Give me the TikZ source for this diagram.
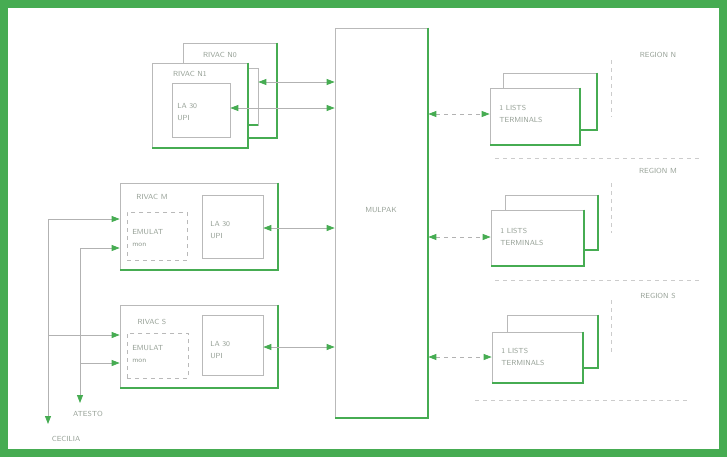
\documentclass[tikz,border=0pt]{standalone}
\usetikzlibrary{arrows.meta,fit}
\definecolor{grn}{RGB}{70,172,82}
\definecolor{txt}{RGB}{150,160,150}
\tikzset{
  frame/.style={draw=grn,line width=6pt},
  box/.style={draw=gray!55,line width=0.5pt,fill=white,inner sep=0pt},
  dbox/.style={draw=gray!55,line width=0.5pt,dashed,inner sep=0pt},
  shade/.style={draw=grn,line width=1.5pt},
  lbl/.style={text=txt,font=\sffamily\fontsize{5.5}{6.5}\selectfont,inner sep=0pt},
  llbl/.style={lbl,anchor=west,align=left},
  tip/.tip={Triangle[length=6pt,width=4.5pt,color=grn]},
  link/.style={draw=gray!60,line width=0.6pt,tip-tip},
  rlink/.style={link,dashed},
  inarr/.style={draw=gray!60,line width=0.6pt,-tip},
  sep/.style={draw=gray!40,line width=0.5pt,dashed},
}
\begin{document}
\begin{tikzpicture}[x=0.75pt,y=-0.75pt]
\useasboundingbox (0,0) rectangle (727,457);
\draw[frame] (4,4) rectangle (723,453);

% ---- RIVAC N stack
\node[box,fit={(183,43)(277,138)}] (nback) {};
\draw[shade] (nback.north east) -- (nback.south east) -- (nback.south west);
\node[box,fit={(160,68)(258,125)}] (nmid) {};
\draw[shade] (nmid.south east) -- ([xshift=-8pt]nmid.south east);
\node[box,fit={(152,63)(248,148)}] (nfront) {};
\draw[shade] (nfront.north east) -- (nfront.south east) -- (nfront.south west);
\node[box,fit={(172,83)(230,137)}] (nla) {};
\node[lbl] (nbl) at (220,55) {RIVAC N0};
\node[lbl] (nfl) at (190,74) {RIVAC N1};
\node[llbl] (nlat) at (177,112) {LA 30\\[2pt]UPI};

% ---- RIVAC M
\node[box,fit={(120,183)(278,270)}] (m) {};
\draw[shade] (m.north east) -- (m.south east) -- (m.south west);
\node[box,fit={(202,195)(263,258)}] (mla) {};
\node[dbox,fit={(127,212)(187,260)}] (mem) {};
\node[lbl] (ml) at (152,197) {RIVAC M};
\node[llbl] (mlat) at (210,230) {LA 30\\[2pt]UPI};
\node[llbl] (memt) at (132,238) {EMULAT\\[2pt]mon};

% ---- RIVAC S
\node[box,fit={(120,305)(278,388)}] (s) {};
\draw[shade] (s.north east) -- (s.south east) -- (s.south west);
\node[box,fit={(202,315)(263,375)}] (sla) {};
\node[dbox,fit={(127,333)(188,378)}] (sem) {};
\node[lbl] (sl) at (152,322) {RIVAC S};
\node[llbl] (slat) at (210,350) {LA 30\\[2pt]UPI};
\node[llbl] (semt) at (132,354) {EMULAT\\[2pt]mon};

% ---- multiplexer
\node[box,fit={(335,28)(428,418)}] (mux) {};
\draw[shade] (mux.north east) -- (mux.south east) -- (mux.south west);
\node[lbl] (muxl) at (381,210) {MULPAK};

% ---- links left of mux
\draw[link] (mux.west |- 0,82) -- (nmid.east |- 0,82);
\draw[link] (mux.west |- 0,108) -- (nla.east |- 0,108);
\draw[link] (mux.west |- 0,228) -- (mla.east |- 0,228);
\draw[link] (mux.west |- 0,347) -- (sla.east |- 0,347);

% ---- input lines
\coordinate (c1) at (48,219);
\coordinate (c2) at (80,248);
\coordinate (c3) at (48,335);
\coordinate (c4) at (80,363);
\coordinate (cec) at (48,424);
\coordinate (ate) at (80,403);
\draw[inarr] (c1) -- (m.west |- c1);
\draw[inarr] (c2) -- (m.west |- c2);
\draw[inarr] (c3) -- (s.west |- c3);
\draw[inarr] (c4) -- (s.west |- c4);
\draw[inarr] (c1) -- (cec);
\draw[inarr] (c2) -- (ate);
\node[lbl] (atel) at (88,414) {ATESTO};
\node[lbl] (cecl) at (66,439) {CECILIA};

% ---- regions
\foreach \n/\yt/\yb/\ya/\ly/\rn/\bx/\by/\bxe/\bye/\fx/\fy/\fxe/\fye in {
  N/60/117/114/55/N/503/73/597/130/490/88/580/145,
  M/183/233/237/171/M/505/195/598/250/491/210/584/266,
  S/300/355/357/296/S/507/315/598/368/492/332/583/383}{
  \node[box,fit={(\bx,\by)(\bxe,\bye)}] (tb\n) {};
  \draw[shade] (tb\n.north east) -- (tb\n.south east) -- (tb\n.south west);
  \node[box,fit={(\fx,\fy)(\fxe,\fye)}] (tf\n) {};
  \draw[shade] (tf\n.north east) -- (tf\n.south east) -- (tf\n.south west);
  \node[llbl] (tt\n) at (\fx+9,\ya) {1 LISTS\\[2pt]TERMINALS};
  \draw[rlink] (mux.east |- 0,\ya) -- (tf\n.west |- 0,\ya);
  \draw[sep] (611,\yt) -- (611,\yb);
  \node[lbl] (rl\n) at (658,\ly) {REGION \rn};
}
\draw[sep] (495,158) -- (700,158);
\draw[sep] (495,280) -- (700,280);
\draw[sep] (475,400) -- (690,400);
\end{tikzpicture}
\end{document}
